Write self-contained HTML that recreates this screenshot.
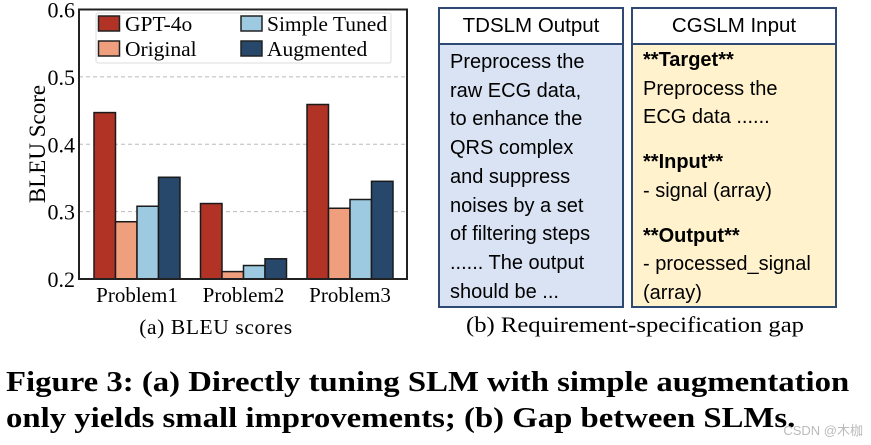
<!DOCTYPE html>
<html><head><meta charset="utf-8"><style>
body{margin:0;width:871px;height:445px;background:#fff;position:relative;overflow:hidden;font-family:"Liberation Serif",serif}
.box{position:absolute;border:2px solid #2f4a72;box-sizing:border-box}
.hd{position:absolute;left:0;right:0;top:0;height:34px;background:#fff;border-bottom:2px solid #2f4a72;font-family:"Liberation Sans",sans-serif;font-size:20.5px;text-align:center;line-height:34px}
.bd{position:absolute;left:0;right:0;top:34px;bottom:0;font-family:"Liberation Sans",sans-serif;font-size:20px;line-height:28.7px;padding:4px 0 0 10px;white-space:nowrap}
.cap{position:absolute;font-size:22px;white-space:nowrap;transform-origin:0 0}
.fig{position:absolute;left:6px;font-weight:bold;font-size:28px;white-space:nowrap;transform:scaleX(1.17);transform-origin:0 0}
</style></head><body>
<svg width="430" height="345" style="position:absolute;left:0;top:0" font-family="Liberation Serif, serif">
<g id="grid"></g><g id="bars"></g><g id="ticks"></g>
<rect x="79" y="9.5" width="328" height="269.5" fill="none" stroke="#222" stroke-width="2"/>
<text transform="translate(45,144) rotate(-90)" text-anchor="middle" font-size="23">BLEU Score</text>
<g>
<rect x="96" y="13" width="295" height="50" fill="#fff" stroke="#ddd" rx="2"/>
<rect x="98.5" y="16" width="21" height="15" fill="#b03326" stroke="#222" stroke-width="1.5"/><text x="125" y="31" font-size="21.5">GPT-4o</text>
<rect x="98.5" y="41" width="21" height="15" fill="#ef9f7d" stroke="#222" stroke-width="1.5"/><text x="125" y="56" font-size="21.5">Original</text>
<rect x="241" y="16" width="21" height="15" fill="#9ecae1" stroke="#222" stroke-width="1.5"/><text x="267" y="31" font-size="21.5">Simple Tuned</text>
<rect x="241" y="41" width="21" height="15" fill="#27476b" stroke="#222" stroke-width="1.5"/><text x="267" y="56" font-size="21.5">Augmented</text>
</g>
<text x="216" y="334" text-anchor="middle" font-size="21.5" letter-spacing="0.6">(a)  BLEU scores</text>
</svg>
<script>
const categories=["Problem1","Problem2","Problem3"];
const seriesNames=["GPT-4o","Original","Simple Tuned","Augmented"];
const gpt4o=[0.447,0.312,0.459];
const original=[0.285,0.211,0.305];
const simpleTuned=[0.308,0.220,0.318];
const augmented=[0.351,0.230,0.345];
const yTicks=[0.2,0.3,0.4,0.5,0.6];
const colors=["#b03326","#ef9f7d","#9ecae1","#27476b"];
const NS="http://www.w3.org/2000/svg";
const y=v=>279-(v-0.2)/0.4*269.5;
const gx=i=>94+i*106.5, bw=21.5;
const grid=document.getElementById('grid'),bars=document.getElementById('bars'),ticks=document.getElementById('ticks');
yTicks.forEach(t=>{
 if(t>0.2&&t<0.6){const l=document.createElementNS(NS,'line');
 
 
 l.setAttribute('x1',79);l.setAttribute('x2',407);l.setAttribute('y1',y(t));l.setAttribute('y2',y(t));
 l.setAttribute('stroke','#bbb');l.setAttribute('stroke-dasharray','4,3');grid.appendChild(l);}
 const tx=document.createElementNS(NS,'text');
 
 
 tx.setAttribute('x',75);tx.setAttribute('y',y(t)+8);tx.setAttribute('text-anchor','end');tx.setAttribute('font-size','22');
 tx.textContent=t.toFixed(1);ticks.appendChild(tx);
});
[gpt4o,original,simpleTuned,augmented].forEach((s,si)=>{
 s.forEach((v,ci)=>{
  const r=document.createElementNS(NS,'rect');
  
  
  r.setAttribute('x',gx(ci)+si*bw);r.setAttribute('y',y(v));r.setAttribute('width',bw);r.setAttribute('height',279-y(v));
  r.setAttribute('fill',colors[si]);r.setAttribute('stroke','#1a1a1a');r.setAttribute('stroke-width','1.5');
  bars.appendChild(r);
 });
});
categories.forEach((c,ci)=>{
 const tx=document.createElementNS(NS,'text');
 
 
 tx.setAttribute('x',gx(ci)+2*bw);tx.setAttribute('y',302);tx.setAttribute('text-anchor','middle');tx.setAttribute('font-size','21');
 tx.textContent=c;ticks.appendChild(tx);
});
</script>
<div class="box" style="left:438px;top:7px;width:186px;height:301px;background:#dae3f3">
<div class="hd">TDSLM Output</div>
<div class="bd" style="padding-top:5px">Preprocess the<br>raw ECG data,<br>to enhance the<br>QRS complex<br>and suppress<br>noises by a set<br>of filtering steps<br>...... The output<br>should be ...</div>
</div>
<div class="box" style="left:631px;top:7px;width:206px;height:301px;background:#fff2cc">
<div class="hd">CGSLM Input</div>
<div class="bd" style="padding-top:3px"><b>**Target**</b><br>Preprocess the<br>ECG data ......<br><div style="height:16px"></div><b>**Input**</b><br>- signal (array)<br><div style="height:16px"></div><b>**Output**</b><br>- processed_signal<br>(array)</div>
</div>
<div class="cap" style="left:466px;top:312px;transform:scaleX(1.12)">(b)  Requirement-specification gap</div>
<div class="fig" style="top:367px">Figure 3: (a) Directly tuning SLM with simple augmentation</div>
<div class="fig" style="top:403px">only yields small improvements; (b) Gap between SLMs.</div>
<div style="position:absolute;right:8px;top:420px;font-family:'Liberation Sans','Noto Sans CJK SC',sans-serif;font-size:13px;color:#bbb">CSDN @木枷</div>
</body></html>
